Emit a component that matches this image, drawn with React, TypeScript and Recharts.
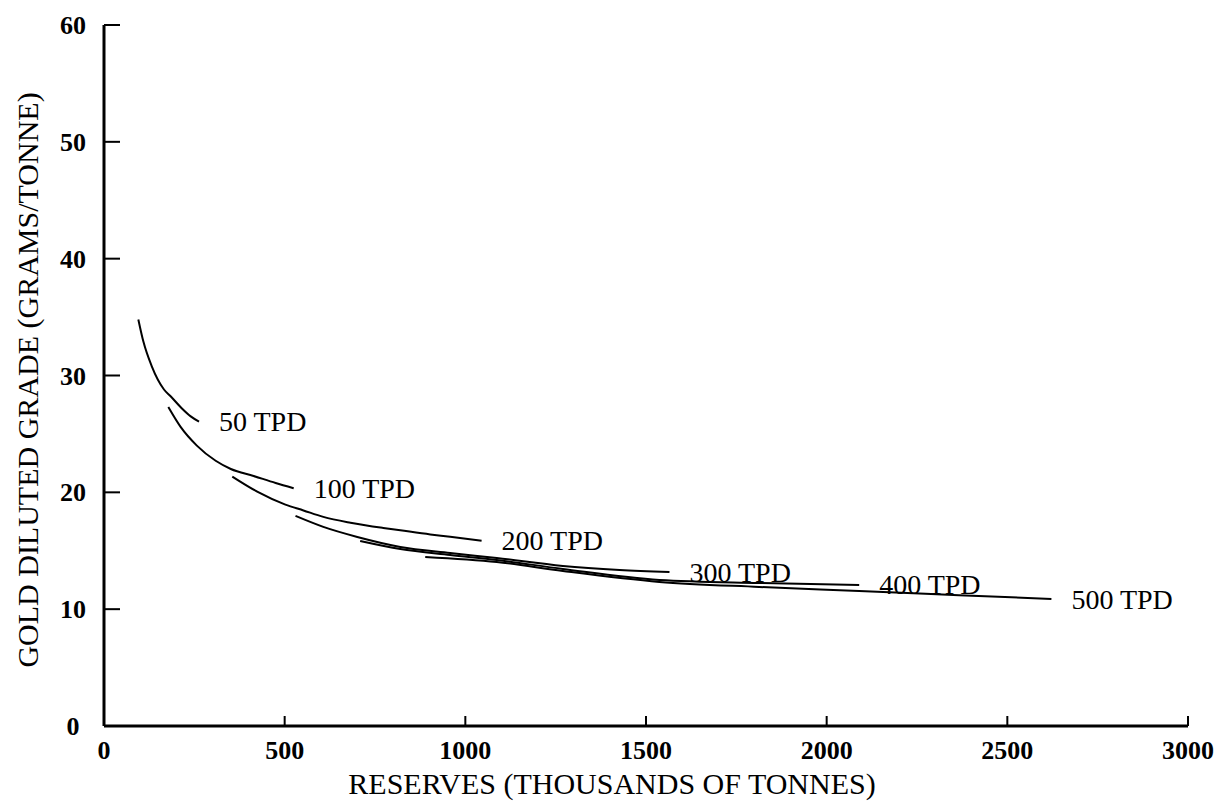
import { LineChart, Line, XAxis, YAxis, Label } from 'recharts';

const xTicks = [0, 500, 1000, 1500, 2000, 2500, 3000];
const yTicks = [0, 10, 20, 30, 40, 50, 60];

const seriesNames = ['50 TPD', '100 TPD', '200 TPD', '300 TPD', '400 TPD', '500 TPD'];

// reserves (thousands of tonnes) / diluted grade (g/t)
const reserves50 = [95, 109, 132, 166, 185, 215, 240, 263];
const grade50 = [34.8, 32.9, 30.8, 28.8, 28.2, 27.2, 26.5, 26.05];

const reserves100 = [178, 212, 257, 309, 351, 414, 475, 525];
const grade100 = [27.3, 25.6, 24.0, 22.7, 22.0, 21.4, 20.8, 20.35];

const reserves200 = [355, 424, 502, 552, 607, 682, 773, 820, 903, 958, 1045];
const grade200 = [21.35, 20.06, 18.95, 18.45, 17.9, 17.4, 16.95, 16.75, 16.4, 16.2, 15.85];

const reserves300 = [530, 607, 701, 820, 958, 1087, 1270, 1427, 1565];
const grade300 = [17.98, 17.04, 16.18, 15.33, 14.81, 14.38, 13.7, 13.36, 13.18];

const reserves400 = [709, 820, 958, 1087, 1270, 1537, 1813, 2090];
const grade400 = [15.84, 15.15, 14.64, 14.21, 13.44, 12.5, 12.24, 12.07];

const reserves500 = [889, 1087, 1270, 1537, 1813, 2090, 2366, 2622];
const grade500 = [14.47, 14.04, 13.27, 12.33, 11.9, 11.56, 11.2, 10.87];

const allReserves = [reserves50, reserves100, reserves200, reserves300, reserves400, reserves500];
const allGrades = [grade50, grade100, grade200, grade300, grade400, grade500];

const FONT = '"Liberation Serif", "Times New Roman", serif';

const series = seriesNames.map((name, s) => ({
  name,
  points: allReserves[s].map((x, i) => ({ x, y: allGrades[s][i] })),
}));

function XTick(props: any) {
  const { x, y, payload } = props;
  return (
    <g>
      <line x1={x} y1={y} x2={x} y2={y - 10} stroke="#000" strokeWidth={2} />
      <text x={x} y={y + 33} textAnchor="middle" fontFamily={FONT} fontSize={26} fontWeight="bold" fill="#000">
        {payload.value}
      </text>
    </g>
  );
}

function YTick(props: any) {
  const { x, y, payload } = props;
  return (
    <g>
      <line x1={x} y1={y} x2={x + 16} y2={y} stroke="#000" strokeWidth={2} />
      <text x={x - 31} y={y + 9} textAnchor="middle" fontFamily={FONT} fontSize={26} fontWeight="bold" fill="#000">
        {payload.value}
      </text>
    </g>
  );
}

function endLabel(name: string, last: number) {
  return (p: any) => {
    if (p.index !== last) return <g />;
    return (
      <text x={p.x + 20} y={p.y} dominantBaseline="central" fontFamily={FONT} fontSize={28} fill="#000">
        {name}
      </text>
    );
  };
}

export default function App() {
  return (
    <div style={{ position: 'absolute', left: 0, top: 0, background: '#fff' }}>
      <LineChart width={1229} height={805} margin={{ top: 25, right: 41, bottom: 29, left: 44 }}>
        <XAxis
          type="number"
          dataKey="x"
          domain={[0, 3000]}
          ticks={xTicks}
          interval={0}
          height={50}
          tickSize={0}
          tickMargin={0}
          tickLine={false}
          axisLine={{ stroke: '#000', strokeWidth: 3 }}
          tick={<XTick />}
        >
          <Label
            content={() => (
              <text x={612} y={794} textAnchor="middle" fontFamily={FONT} fontSize={30} fill="#000">
                RESERVES (THOUSANDS OF TONNES)
              </text>
            )}
          />
        </XAxis>
        <XAxis
          xAxisId="top"
          orientation="top"
          type="number"
          domain={[0, 3000]}
          height={0}
          tick={false}
          tickLine={false}
          axisLine={{ stroke: '#000', strokeWidth: 2.5 }}
        />
        <YAxis
          type="number"
          domain={[0, 60]}
          ticks={yTicks}
          interval={0}
          width={60}
          tickSize={0}
          tickMargin={0}
          tickLine={false}
          axisLine={{ stroke: '#000', strokeWidth: 3 }}
          tick={<YTick />}
        >
          <Label
            content={() => (
              <text
                x={27}
                y={380}
                transform="rotate(-90 27 380)"
                textAnchor="middle"
                dominantBaseline="central"
                fontFamily={FONT}
                fontSize={30}
                fill="#000"
              >
                GOLD DILUTED GRADE (GRAMS/TONNE)
              </text>
            )}
          />
        </YAxis>
        <YAxis
          yAxisId="right"
          orientation="right"
          type="number"
          domain={[0, 60]}
          width={0}
          tick={false}
          tickLine={false}
          axisLine={{ stroke: '#000', strokeWidth: 2.5 }}
        />
        {series.map((s) => (
          <Line
            key={s.name}
            data={s.points}
            dataKey="y"
            type="monotone"
            stroke="#000"
            strokeWidth={2}
            dot={false}
            activeDot={false}
            isAnimationActive={false}
            label={endLabel(s.name, s.points.length - 1)}
          />
        ))}
      </LineChart>
    </div>
  );
}
